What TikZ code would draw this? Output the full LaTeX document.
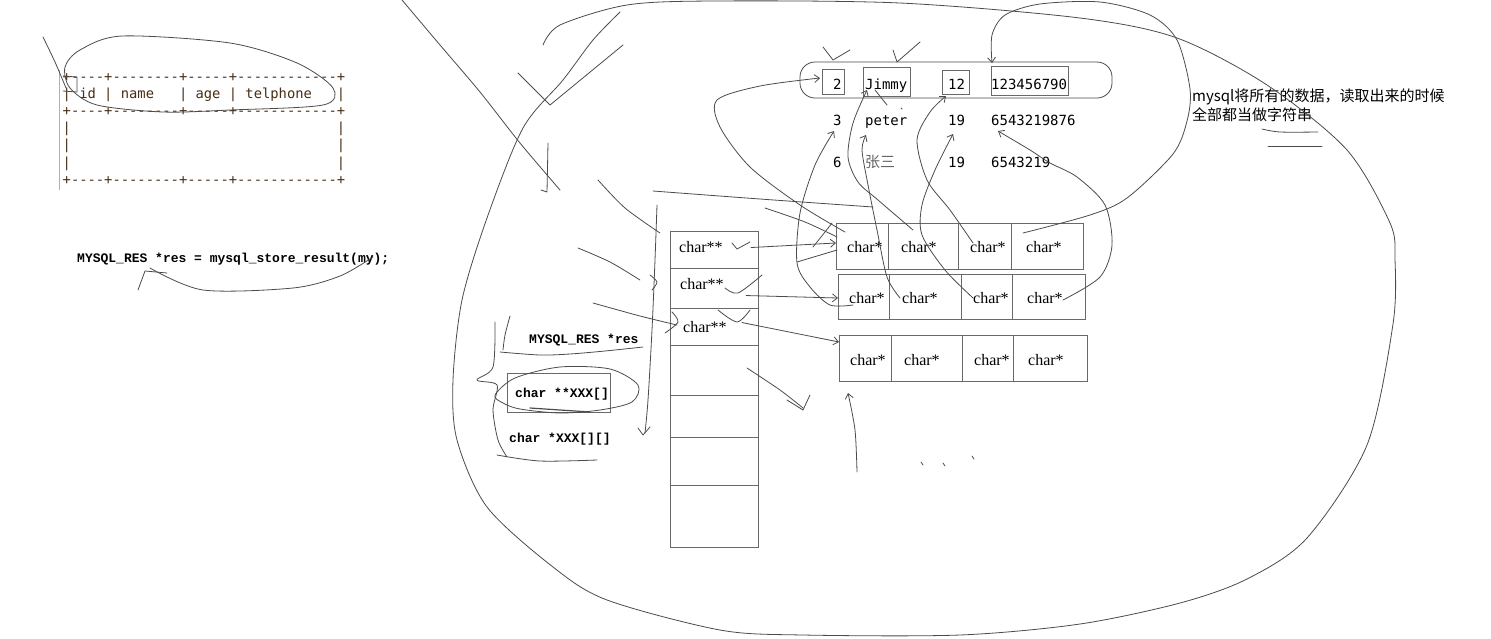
\documentclass[tikz,border=0pt]{standalone}
\usepackage{fontspec}
\setmonofont{DejaVu Sans Mono}
\newfontfamily\codefont{Liberation Mono}
\newfontfamily\cellfont{Liberation Serif}
\newfontfamily\cjk{Noto Sans CJK SC}
\usetikzlibrary{arrows.meta}
\definecolor{tabink}{RGB}{70,45,20}
\definecolor{penink}{RGB}{75,75,75}
\definecolor{boxink}{RGB}{105,105,105}

\begin{document}
\begin{tikzpicture}[x=1pt,y=-1pt,>={Straight Barb[length=5pt,width=8pt]},
  pen/.style={draw=penink,line width=0.8pt,line cap=round,line join=round},
  box/.style={draw=boxink,line width=0.9pt},
  txt/.style={inner sep=0pt,anchor=base west},
  tabtxt/.style={txt,text=tabink,font=\ttfamily\fontsize{13.8}{16}\selectfont},
  codetxt/.style={txt,font=\codefont\bfseries\fontsize{13}{15}\selectfont},
  valtxt/.style={txt,font=\ttfamily\fontsize{14}{16}\selectfont},
  celltxt/.style={txt,font=\cellfont\fontsize{16}{18}\selectfont}]
\useasboundingbox (0,0) rectangle (1491,638);

\draw[blue!35,line width=0.8pt] (59.5,70)--(59.5,190);
\foreach \i/\s in {0/{+----+--------+-----+------------+},1/{| id | name\ \ \ | age | telphone\ \ \ |},
  2/{+----+--------+-----+------------+},3/{|\phantom{--------------------------------}|},
  4/{|\phantom{--------------------------------}|},5/{|\phantom{--------------------------------}|},
  6/{+----+--------+-----+------------+}}
  \node[tabtxt] (tab\i) at (62.5,81+17.2*\i) {\s};
\draw[pen] plot[smooth cycle] coordinates {(122,36) (230,43) (297,63) (333,88) (323,105) (230,110) (163,112) (97,105) (70,88) (65,67) (80,50)};
\draw[pen] plot[smooth] coordinates {(43,37) (55,62) (66,88)};
\draw[pen] (63,76)--(77,77)--(77,92)--(63,91);

\node[codetxt] (code) at (77,262) {MYSQL\_RES *res = mysql\_store\_result(my);};
\draw[pen] plot[smooth] coordinates {(373,257) (340,276) (293,288) (203,290) (150,268)};
\draw[pen] (138,290)--(145,271)--(167,273);

\draw[pen,rounded corners=15] (800,62) rectangle (1112,98);
\foreach \a/\b/\c/\d in {822/69/844/94,863/67/910/96,942/70/969/94,991/66/1068/95}
  \draw[box] (\a,\b) rectangle (\c,\d);
\foreach \y/\a/\b/\c/\d [count=\r] in {89/2/Jimmy/12/123456790,125/3/peter/19/6543219876,
  167/6/{\cjk\fontsize{15}{16}\selectfont\color{black!60}张三}/19/6543219}{
  \node[valtxt] (v\r-1) at (833,\y) {\a};
  \node[valtxt] (v\r-2) at (865,\y) {\b};
  \node[valtxt] (v\r-3) at (948,\y) {\c};
  \node[valtxt] (v\r-4) at (991,\y) {\d};
}
\node[txt,font=\cjk\fontsize{15}{19}\selectfont,align=left,anchor=north west] (note) at (1192,89)
  {mysql将所有的数据，读取出来的时候\\全部都当做字符串};
\draw[pen] plot[smooth] coordinates {(1262,129) (1280,132) (1318,132)};
\draw[pen] (1268,146)--(1322,146);

\draw[box] (670,231) rectangle (758,547);
\foreach \y in {268,308,345,395,437,485} \draw[box] (670,\y)--(758,\y);
\foreach \x/\y [count=\k] in {679/252,680/289,683/332}
  \node[celltxt] (pp\k) at (\x,\y) {char**};

\foreach \r/\t/\b/\xa/\xb/\xc/\xd/\xe/\base/\dy in {1/223/269/836/888/958/1011/1083/252/20,
  2/274/319/838/889/961/1012/1085/303/24,3/335/381/839/891/962/1013/1087/365/7}{
  \draw[box] (\xa,\t) rectangle (\xe,\b);
  \foreach \x in {\xb,\xc,\xd} \draw[box] (\x,\t)--(\x,\b);
  \node[celltxt] (g\r-1) at (\xa+11,\base) {char*};
  \node[celltxt] (g\r-2) at (\xb+13,\base) {char*};
  \node[celltxt] (g\r-3) at (\xc+12,\base) {char*};
  \node[celltxt] (g\r-4) at (\xd+15,\base) {char*};
  \coordinate (in\r) at (\xa,\t+\dy);
}
\draw[pen,->] ([xshift=28pt,yshift=-1pt]pp1.east) -- (in1);
\draw[pen,->] ([xshift=22pt,yshift=-12pt]pp2.east) -- (in2);
\draw[pen,->] ([xshift=15pt,yshift=4pt]pp3.east) -- (in3);
\draw[pen] (732,243)--(737,249)--(750,242);
\draw[pen] plot[smooth] coordinates {(725,288) (738,293) (762,275)};
\draw[pen] plot[smooth] coordinates {(718,310) (737,322) (750,310)};

\node[codetxt] (res) at (529,343) {MYSQL\_RES *res};
\node[codetxt] (arr) at (515,397) {char **XXX[]};
\node[codetxt] (arr2) at (509,442) {char *XXX[][]};
\draw[box] (507,373) rectangle (610,412);
\draw[pen] plot[smooth cycle] coordinates {(495,395) (515,378) (560,367) (610,369) (638,385) (632,402) (600,410) (560,413) (520,409) (503,403)};
\draw[pen,line width=1.2pt] (530,408)--(590,412);
\draw[pen] plot[smooth] coordinates {(497,455) (540,461) (597,460)};
\draw[pen] plot[smooth] coordinates {(510,316) (505,335) (503,350)};
\draw[pen] plot[smooth] coordinates {(500,352) (540,355) (570,354) (605,351) (643,347)};
\draw[pen] plot[smooth] coordinates {(495,322) (493,367) (477,380) (497,385) (493,410) (498,440) (507,457)};

\draw[pen] plot[smooth] coordinates {(620,12) (593,40) (563,80) (523,128) (487,218) (462,300) (453,380) (457,440)
  (487,507) (553,567) (607,600) (720,630) (803,635) (960,635) (1080,624) (1180,603) (1247,579) (1307,538)
  (1367,445) (1393,324) (1395,259) (1390,223) (1347,150) (1267,85) (1177,38) (1080,18) (900,3) (713,1)
  (627,5) (560,25) (543,45)};
\draw[pen] plot[smooth] coordinates {(402,0) (440,45) (480,92) (520,143) (560,190)};
\draw[pen] (518,73)--(550,105)--(623,45);
\draw[pen] (548,143)--(547,192)--(541,190);
\draw[pen] plot[smooth] coordinates {(598,180) (625,208) (660,233)};
\draw[pen] plot[smooth] coordinates {(653,191) (760,199) (873,207)};
\draw[pen] plot[smooth] coordinates {(765,208) (805,222) (837,237)};
\draw[pen] (797,262)--(837,250);
\draw[pen] plot[smooth] coordinates {(813,247) (825,232) (832,223)};
\draw[pen] plot[smooth] coordinates {(657,205) (655,260) (652,330) (648,400) (645,433)};
\draw[pen] (638,428)--(643,435)--(650,427);
\draw[pen] plot[smooth] coordinates {(578,248) (610,262) (640,280)};
\draw[pen] plot[smooth] coordinates {(650,275) (657,282) (652,290)};
\draw[pen] plot[smooth] coordinates {(593,303) (640,316) (677,325)};
\draw[pen] plot[smooth] coordinates {(672,312) (678,322) (665,333)};
\draw[pen] plot[smooth] coordinates {(747,368) (780,390) (803,408)};
\draw[pen] (787,400)--(803,410)--(810,395);
\draw[pen,->] plot[smooth] coordinates {(857,472) (855,430) (848,393)};
\foreach \x/\y in {921/462,943/463,972/456} \draw[pen] (\x,\y)--(\x+2,\y+3);

\draw[pen] (823,47)--(833,60)--(850,50);
\draw[pen] (893,50)--(897,62)--(920,42);
\draw[pen] (875,90)--(887,105);
\draw[pen] (901,108)--(902,109);
\draw[pen,->] plot[smooth] coordinates {(845,232) (800,205) (750,167) (720,127) (717,100) (760,86) (820,78)};
\draw[pen,->] plot[smooth] coordinates {(913,230) (878,200) (858,182) (848,157) (853,123) (867,90)};
\draw[pen,->] plot[smooth] coordinates {(973,243) (950,210) (927,180) (917,140) (930,112) (946,96)};
\draw[pen,->] plot[smooth] coordinates {(853,305) (830,305) (810,287) (797,263) (800,213) (815,165) (834,131)};
\draw[pen,->] plot[smooth] coordinates {(900,298) (887,277) (877,230) (868,185) (862,150) (866,135)};
\draw[pen,->] plot[smooth] coordinates {(973,298) (945,270) (922,235) (922,205) (935,170) (953,134)};
\draw[pen,->] plot[smooth] coordinates {(1063,300) (1100,277) (1112,245) (1105,205) (1077,177) (1050,163) (1030,150) (998,131)};
\draw[pen,->] plot[smooth] coordinates {(1023,233) (1090,215) (1127,198) (1173,154) (1187,121) (1190,89) (1177,40)
  (1150,15) (1100,2) (1040,4) (1005,15) (992,35) (992,63)};
\end{tikzpicture}
\end{document}
